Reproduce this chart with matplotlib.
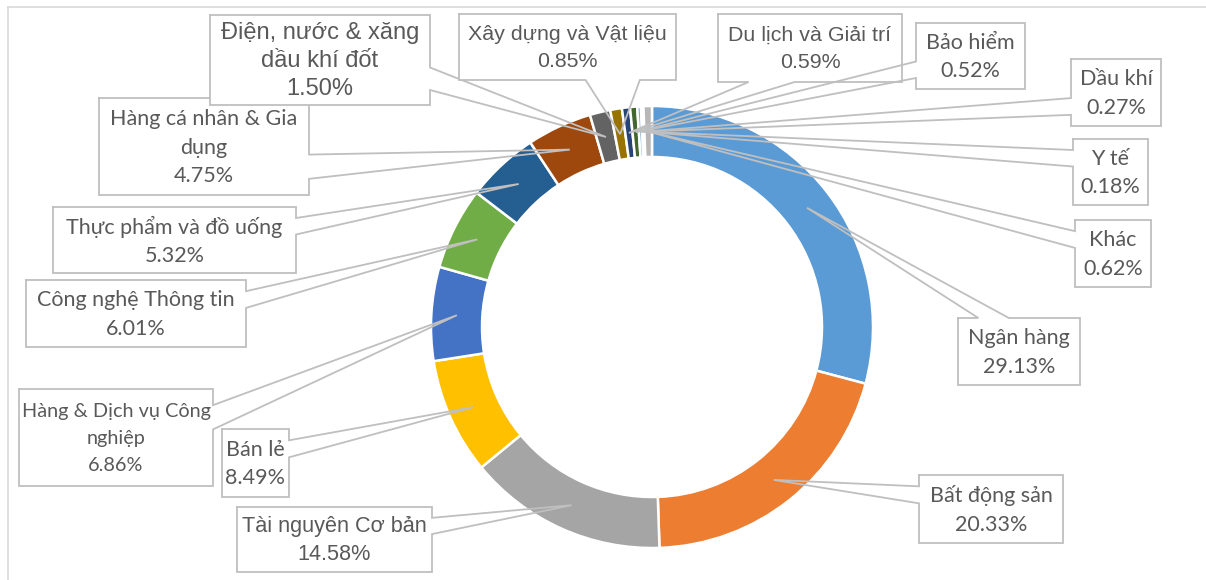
import matplotlib
matplotlib.use("Agg")
import matplotlib.pyplot as plt
from matplotlib.patches import Rectangle
from matplotlib.lines import Line2D
import numpy as np

# sector shares (%), clockwise from 12 o'clock
sectors = ["Ngân hàng", "Bất động sản", "Tài nguyên Cơ bản", "Bán lẻ",
           "Hàng & Dịch vụ Công\nnghiệp", "Công nghệ Thông tin",
           "Thực phẩm và đồ uống", "Hàng cá nhân & Gia\ndụng",
           "Điện, nước & xăng\ndầu khí đốt", "Xây dựng và Vật liệu",
           "Du lịch và Giải trí", "Bảo hiểm", "Dầu khí", "Y tế", "Khác"]
shares = [29.13, 20.33, 14.58, 8.49, 6.86, 6.01, 5.32, 4.75,
          1.50, 0.85, 0.59, 0.52, 0.27, 0.18, 0.62]
colors = ["#5B9BD5", "#ED7D31", "#A5A5A5", "#FFC000", "#4472C4", "#70AD47",
          "#255E91", "#9E480E", "#636363", "#997300", "#264478", "#43682B",
          "#7CAFDD", "#F1975A", "#B7B7B7"]

# callout boxes, pixel coords (left, top, right, bottom)
boxes = [(958, 318, 1080, 385), (919, 475, 1063, 543), (237, 507, 432, 572),
         (222, 429, 289, 497), (19, 389, 213, 486), (26, 280, 246, 347),
         (53, 207, 296, 273), (99, 98, 309, 195), (210, 15, 430, 105),
         (459, 14, 676, 80), (718, 14, 902, 82), (916, 23, 1025, 89),
         (1071, 59, 1161, 126), (1073, 139, 1148, 205), (1075, 220, 1151, 287)]

# label fonts: (family list, size pt, linespacing)
calibri = (["Lato", "Noto Sans", "DejaVu Sans"], 15.5, 1.55)
fonts = {2: (["Liberation Sans", "DejaVu Sans"], 15.6, 1.45),
         4: (["Lato", "Noto Sans", "DejaVu Sans"], 14.3, 1.68),
         8: (["Liberation Sans", "DejaVu Sans"], 17.0, 1.33),
         9: (["Liberation Sans", "DejaVu Sans"], 15.4, 1.55),
         10: (["Liberation Sans", "DejaVu Sans"], 15.4, 1.55)}

W, H = 1206, 580
cx, cy, R, ring = 652, 327, 221, 51
edge = "#BFBFBF"
txt = "#595959"


def callout(l, t, r, b, tip):
    # outline of an Excel wedgeRectCallout, tail inserted on the facing side
    w, h = r - l, b - t
    dx = tip[0] - (l + r) / 2
    dy = tip[1] - (t + b) / 2
    fx = (7, 10) if dx > 0 else (2, 5)
    fy = (7, 10) if dy > 0 else (2, 5)
    x1, x2 = l + w * fx[0] / 12, l + w * fx[1] / 12
    y1, y2 = t + h * fy[0] / 12, t + h * fy[1] / 12
    top = [(l, t), (r, t)]
    right = [(r, b)]
    bottom = [(l, b)]
    left = [(l, t)]
    if abs(dy) > abs(dx * h / w):
        if dy < 0:
            top = [(l, t), (x1, t), tip, (x2, t), (r, t)]
        else:
            bottom = [(x2, b), tip, (x1, b), (l, b)]
    else:
        if dx > 0:
            right = [(r, y1), tip, (r, y2), (r, b)]
        else:
            left = [(l, y2), tip, (l, y1), (l, t)]
    return top + right + bottom + left


fig = plt.figure(figsize=(W / 100, H / 100), dpi=100)
ax = fig.add_axes([0, 0, 1, 1])

ax.pie(shares, colors=colors, startangle=-90, counterclock=True,
       center=(cx, cy), radius=R,
       wedgeprops=dict(width=ring, edgecolor="white", linewidth=1.8))
ax.set_xlim(0, W)
ax.set_ylim(H, 0)
ax.set_aspect("equal")
ax.axis("off")

# chart area border (only top and left visible in the crop)
fig.add_artist(Line2D([8 / W, 8 / W], [0, 1 - 7 / H], color="#D9D9D9", lw=1.2))
fig.add_artist(Line2D([8 / W, 1], [1 - 7 / H, 1 - 7 / H], color="#D9D9D9", lw=1.2))

cum = np.cumsum([0] + shares[:-1])
rmid = R - ring / 2
for i, (name, v) in enumerate(zip(sectors, shares)):
    theta = np.deg2rad(-90 + 3.6 * (cum[i] + v / 2))
    tip = (cx + rmid * np.cos(theta), cy + rmid * np.sin(theta))
    l, t, r, b = boxes[i]
    z = 5 + i * 0.01
    ax.add_patch(Rectangle((l, t), r - l, b - t, facecolor="white",
                           edgecolor="none", zorder=z))
    pts = callout(l, t, r, b, tip)
    ax.plot([p[0] for p in pts], [p[1] for p in pts], color=edge, lw=1.3,
            solid_joinstyle="miter", zorder=z + 0.001)
    fam, fs, ls = fonts.get(i, calibri)
    ax.text((l + r) / 2, (t + b) / 2 + 1, f"{name}\n{v:.2f}%", ha="center",
            va="center", multialignment="center", fontsize=fs, family=fam,
            color=txt, linespacing=ls, zorder=z + 0.002)

fig.savefig("out.png", dpi=100)
